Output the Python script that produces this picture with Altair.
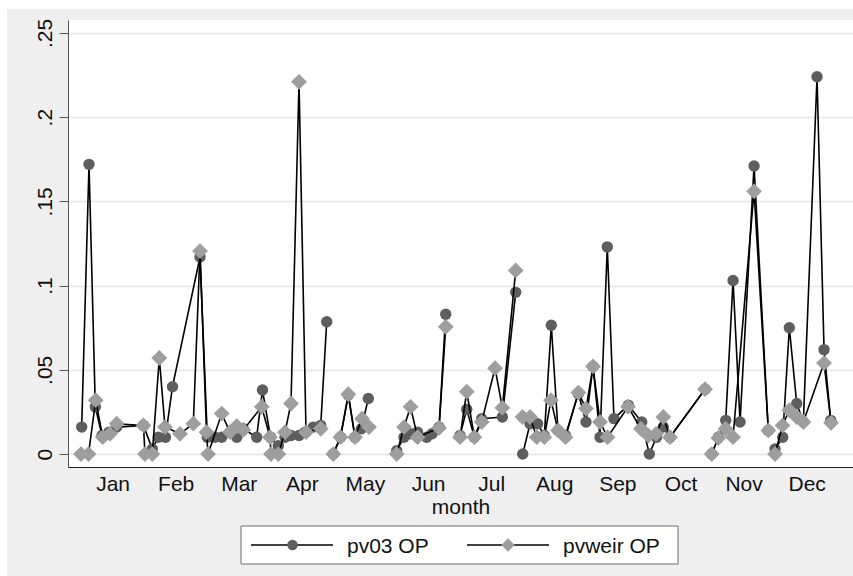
import altair as alt
import pandas as pd

# Months on a continuous scale: 1.0 = start of January, labels sit mid-month.
MONTH_NAMES = ["Jan", "Feb", "Mar", "Apr", "May", "Jun",
               "Jul", "Aug", "Sep", "Oct", "Nov", "Dec"]
MONTH_TICKS = [m + 0.5 for m in range(1, 13)]
Y_TICKS = [0, 0.05, 0.1, 0.15, 0.2, 0.25]

# pv03 OP
PV03_X = [1.011, 1.127, 1.227, 1.333, 1.444, 1.566, 1.990, 2.130, 2.225, 2.339,
          2.450, 2.886, 3.002, 3.124, 3.230, 3.361, 3.468, 3.572, 3.784, 3.876,
          4.003, 4.127, 4.233, 4.328, 4.455, 4.550, 4.681, 4.799, 4.894,
          4.998, 5.112, 5.236, 5.342, 5.442, 5.553,
          6.003, 6.119, 6.222, 6.333, 6.479, 6.563, 6.674, 6.780,
          7.006, 7.113, 7.233, 7.350, 7.677, 7.889,
          8.000, 8.116, 8.235, 8.342, 8.453, 8.559, 8.678, 8.881, 9.003, 9.114,
          9.225, 9.340, 9.446, 9.674, 9.886, 10.006, 10.120, 10.228, 10.334, 10.889,
          10.995, 11.100, 11.217, 11.333, 11.444, 11.666, 11.892,
          11.998, 12.120, 12.225, 12.342, 12.447, 12.664, 12.775, 12.881]
PV03_Y = [0.016, 0.172, 0.028, 0.011, 0.013, 0.016, 0.017, 0.003, 0.010, 0.010,
          0.040, 0.117, 0.010, 0.010, 0.010, 0.013, 0.010, 0.015, 0.010, 0.038,
          0.010, 0.005, 0.010, 0.011, 0.011, 0.013, 0.016, 0.017, 0.0785,
          0.000, 0.010, 0.035, 0.010, 0.015, 0.033,
          0.002, 0.010, 0.012, 0.013, 0.010, 0.012, 0.016, 0.083,
          0.011, 0.0265, 0.010, 0.021, 0.022, 0.096,
          0.000, 0.018, 0.018, 0.011, 0.0765, 0.014, 0.011, 0.036, 0.019, 0.052,
          0.010, 0.123, 0.021, 0.029, 0.019, 0.000, 0.010, 0.016, 0.010, 0.0385,
          0.000, 0.010, 0.020, 0.103, 0.019, 0.171, 0.014,
          0.003, 0.010, 0.075, 0.030, 0.019, 0.224, 0.062, 0.020]
PV03_SEG = [1] * 29 + [2] * 6 + [3] * 8 + [4] * 6 + [5] * 20 + [6] * 7 + [7] * 8

# pvweir OP
PVWEIR_X = [1.000, 1.119, 1.233, 1.344, 1.460, 1.566, 1.990, 2.014, 2.130, 2.241,
            2.331, 2.569, 2.780, 2.886, 2.989, 3.013, 3.230, 3.361, 3.468, 3.572,
            3.864, 3.995, 4.011, 4.127, 4.233, 4.328, 4.455, 4.566, 4.799,
            4.998, 5.112, 5.236, 5.342, 5.453, 5.564,
            6.003, 6.119, 6.222, 6.333, 6.674, 6.780,
            7.006, 7.113, 7.233, 7.350, 7.561, 7.677, 7.889,
            7.997, 8.116, 8.222, 8.342, 8.448, 8.559, 8.678, 8.881, 9.003, 9.114,
            9.225, 9.344, 9.669, 9.873, 9.990, 10.114, 10.228, 10.334, 10.889,
            10.995, 11.100, 11.214, 11.333, 11.666, 11.892,
            11.998, 12.117, 12.225, 12.342, 12.447, 12.775, 12.886]
PVWEIR_Y = [0.000, 0.000, 0.032, 0.010, 0.012, 0.018, 0.017, 0.000, 0.000, 0.057,
            0.016, 0.012, 0.018, 0.1205, 0.013, 0.000, 0.024, 0.013, 0.0166, 0.0143,
            0.028, 0.010, 0.000, 0.000, 0.013, 0.030, 0.221, 0.013, 0.015,
            0.000, 0.010, 0.0355, 0.010, 0.021, 0.016,
            0.000, 0.016, 0.028, 0.010, 0.0155, 0.0755,
            0.010, 0.037, 0.010, 0.019, 0.051, 0.0275, 0.109,
            0.022, 0.022, 0.010, 0.010, 0.032, 0.014, 0.010, 0.0365, 0.027, 0.052,
            0.019, 0.010, 0.028, 0.015, 0.011, 0.012, 0.022, 0.010, 0.0385,
            0.000, 0.0095, 0.015, 0.010, 0.156, 0.014,
            0.000, 0.017, 0.026, 0.022, 0.019, 0.054, 0.0185]
PVWEIR_SEG = [1] * 29 + [2] * 6 + [3] * 6 + [4] * 7 + [5] * 19 + [6] * 6 + [7] * 7

pv03 = pd.DataFrame({"month": PV03_X, "value": PV03_Y, "seg": PV03_SEG})
pv03["idx"] = range(len(pv03))
pvweir = pd.DataFrame({"month": PVWEIR_X, "value": PVWEIR_Y, "seg": PVWEIR_SEG})
pvweir["idx"] = range(len(pvweir))

FONT = "Liberation Sans"
TEXT = "#111111"
W, H = 785, 447
PAD_L, PAD_T = 68, 20

month_expr = "['" + "','".join(MONTH_NAMES) + "'][floor(datum.value) - 1]"

x_enc = alt.X(
    "month:Q",
    scale=alt.Scale(domain=[0.794, 13.234], nice=False, zero=False),
    axis=alt.Axis(
        values=MONTH_TICKS, labelExpr=month_expr, title="month", grid=False,
        tickSize=0, labelPadding=6, labelFontSize=21, labelFont=FONT,
        labelColor=TEXT, labelFlush=False, labelOverlap=False,
        titleFontSize=21, titleFont=FONT, titleFontWeight="normal",
        titleColor=TEXT, titlePadding=2, domainColor="#222222", domainWidth=1,
    ),
)
y_enc = alt.Y(
    "value:Q",
    scale=alt.Scale(domain=[-0.0077, 0.2577], nice=False, zero=False),
    axis=alt.Axis(
        values=Y_TICKS,
        labelExpr="datum.value == 0 ? '0' : replace(format(datum.value, '.2~f'), '0.', '.')",
        title=None, grid=True, gridColor="#E4E4E4", gridWidth=1.5,
        tickSize=9, tickColor="#555555", tickWidth=1,
        domainColor="#555555", domainWidth=1,
        labelAngle=270, labelAlign="center", labelBaseline="bottom",
        labelPadding=4, labelFontSize=21, labelFont=FONT, labelColor=TEXT,
        labelFlush=False, labelOverlap=False,
    ),
)


def series_layers(df, shape, size, fill):
    """Connected line (broken at missing stretches) plus its markers."""
    base = alt.Chart(df)
    line = base.mark_line(color="black", strokeWidth=1.6).encode(
        x=x_enc, y=y_enc, detail="seg:N", order="idx:Q"
    )
    pts = base.mark_point(shape=shape, size=size, filled=True, fill=fill,
                          opacity=1, strokeWidth=0).encode(x=x_enc, y=y_enc)
    return [line, pts]


one = pd.DataFrame({"k": [0]})

# white margins on the top and left edges of the grey surround
edge_top = alt.Chart(one).mark_rect(color="white").encode(
    x=alt.value(-PAD_L), x2=alt.value(W), y=alt.value(-PAD_T), y2=alt.value(-PAD_T + 9))
edge_left = alt.Chart(one).mark_rect(color="white").encode(
    x=alt.value(-PAD_L), x2=alt.value(-PAD_L + 7), y=alt.value(-PAD_T), y2=alt.value(H + 109))

# legend box below the axis title
LEG_Y = 545 - PAD_T
legend_box = alt.Chart(one).mark_rect(fill="white", stroke="#6E6E6E", strokeWidth=1).encode(
    x=alt.value(241 - PAD_L), x2=alt.value(678 - PAD_L),
    y=alt.value(526 - PAD_T), y2=alt.value(564 - PAD_T))
leg_line1 = alt.Chart(one).mark_rule(color="black", strokeWidth=1.6).encode(
    x=alt.value(251 - PAD_L), x2=alt.value(333 - PAD_L), y=alt.value(LEG_Y))
leg_pt1 = alt.Chart(one).mark_point(shape="circle", size=110, filled=True,
                                    fill="#5E5E5E", opacity=1, strokeWidth=0).encode(
    x=alt.value(292.5 - PAD_L), y=alt.value(LEG_Y))
leg_txt1 = alt.Chart(one).mark_text(align="left", baseline="alphabetic", fontSize=21,
                                    font=FONT, color=TEXT).encode(
    x=alt.value(347 - PAD_L), y=alt.value(552.5 - PAD_T), text=alt.value("pv03 OP"))
leg_line2 = alt.Chart(one).mark_rule(color="black", strokeWidth=1.6).encode(
    x=alt.value(467 - PAD_L), x2=alt.value(549 - PAD_L), y=alt.value(LEG_Y))
leg_pt2 = alt.Chart(one).mark_point(shape="diamond", size=180, filled=True,
                                    fill="#9E9E9E", opacity=1, strokeWidth=0).encode(
    x=alt.value(508 - PAD_L), y=alt.value(LEG_Y))
leg_txt2 = alt.Chart(one).mark_text(align="left", baseline="alphabetic", fontSize=21,
                                    font=FONT, color=TEXT).encode(
    x=alt.value(563 - PAD_L), y=alt.value(552.5 - PAD_T), text=alt.value("pvweir OP"))

layers = (
    [edge_top, edge_left]
    + series_layers(pv03, "circle", 130, "#5E5E5E")
    + series_layers(pvweir, "diamond", 250, "#9E9E9E")
    + [legend_box, leg_line1, leg_pt1, leg_txt1, leg_line2, leg_pt2, leg_txt2]
)

chart = (
    alt.layer(*layers)
    .properties(
        width=W, height=H,
        padding={"left": PAD_L, "top": PAD_T, "right": 0, "bottom": 109},
        autosize=alt.AutoSizeParams(type="none"),
        background="#EFEFEF",
    )
    .configure_view(fill="white", strokeWidth=0)
)

chart.save("out.html", embed_options={"renderer": "svg", "actions": False})
